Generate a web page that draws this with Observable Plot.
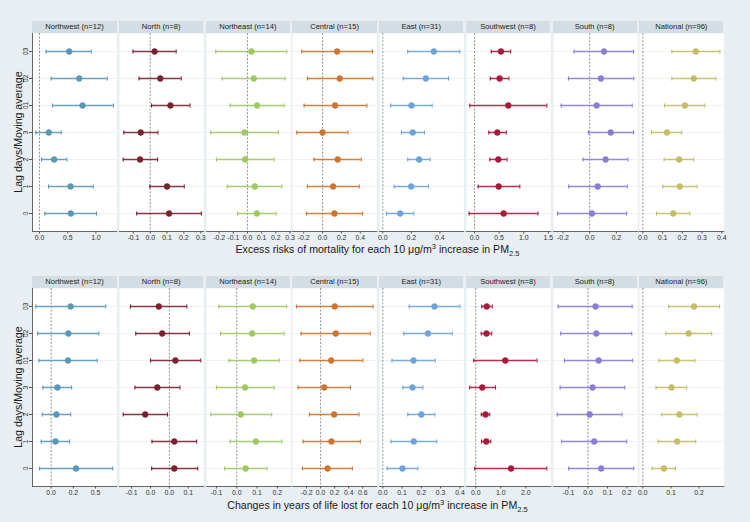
<!DOCTYPE html>
<html>
<head>
<meta charset="utf-8">
<script src="https://cdn.jsdelivr.net/npm/d3@7"></script>
<script src="https://cdn.jsdelivr.net/npm/@observablehq/plot@0.6"></script>
<style>
  body { margin: 0; background: #e8eef1; }
  #root { position: relative; width: 750px; height: 522px; background: #e8eef1; overflow: hidden;
          font-family: "Liberation Sans", Arial, sans-serif; color: #1a1a1a; }
  .strip { position: absolute; height: 12px; background: #d5dde4; font-size: 7.6px; color: #222;
           text-align: center; line-height: 12.5px; white-space: nowrap; }
  .panel { position: absolute; }
  .xtitle { position: absolute; left: 32px; width: 691px; text-align: center; font-size: 10.6px;
            line-height: 13px; white-space: nowrap; }
  .xtitle sup, .xtitle sub { font-size: 7.5px; line-height: 0; position: relative; vertical-align: baseline; }
  .xtitle sup { top: -4px; }
  .xtitle sub { top: 3px; }
  .ytitle { position: absolute; width: 200px; text-align: center; font-size: 10.6px; line-height: 12px;
            transform: rotate(-90deg); white-space: nowrap; }
</style>
</head>
<body>
<div id="root"></div>
<script>
// ---------- data ----------
const regions = ["Northwest (n=12)", "North (n=8)", "Northeast (n=14)", "Central (n=15)",
                 "East (n=31)", "Southwest (n=8)", "South (n=8)", "National (n=96)"];
const colors = ["#5b98b8", "#7a2131", "#9fc763", "#cc7430", "#6fa3d8", "#a8193a", "#8c7dd2", "#c4bd66"];
// lag order of the values below
const lags = ["0", "1", "2", "3", "01", "02", "03"];
// display order, top to bottom
const lagsTopDown = ["03", "02", "01", "3", "2", "1", "0"];

// Excess risks of mortality (top row): estimate, lower, upper per region (in lag order)
const mortEst = [
  [0.556, 0.55, 0.26, 0.166, 0.763, 0.704, 0.527],
  [0.112, 0.10, -0.06, -0.056, 0.12, 0.06, 0.026],
  [0.066, 0.052, -0.016, -0.021, 0.068, 0.045, 0.028],
  [0.126, 0.112, 0.161, 0.0, 0.133, 0.182, 0.154],
  [0.122, 0.199, 0.255, 0.21, 0.201, 0.302, 0.358],
  [0.592, 0.49, 0.483, 0.463, 0.687, 0.51, 0.537],
  [0.017, 0.06, 0.119, 0.157, 0.052, 0.084, 0.107],
  [0.154, 0.187, 0.184, 0.122, 0.213, 0.258, 0.268]
];
const mortLo = [
  [0.095, 0.16, 0.036, -0.065, 0.23, 0.207, 0.118],
  [-0.08, -0.002, -0.16, -0.156, 0.008, -0.066, -0.102],
  [-0.07, -0.142, -0.219, -0.259, -0.123, -0.179, -0.224],
  [-0.172, -0.161, -0.091, -0.274, -0.196, -0.161, -0.221],
  [0.026, 0.08, 0.175, 0.131, 0.056, 0.143, 0.175],
  [-0.109, 0.075, 0.31, 0.29, -0.095, 0.32, 0.34],
  [-0.241, -0.157, -0.05, -0.01, -0.214, -0.159, -0.117],
  [0.069, 0.101, 0.108, 0.044, 0.11, 0.147, 0.147]
];
const mortHi = [
  [1.01, 0.953, 0.485, 0.385, 1.31, 1.20, 0.917],
  [0.304, 0.202, 0.044, 0.046, 0.236, 0.184, 0.154],
  [0.203, 0.243, 0.189, 0.219, 0.259, 0.266, 0.278],
  [0.425, 0.389, 0.41, 0.27, 0.47, 0.533, 0.53],
  [0.218, 0.32, 0.332, 0.292, 0.346, 0.461, 0.54],
  [1.29, 0.92, 0.66, 0.646, 1.47, 0.70, 0.735],
  [0.276, 0.281, 0.286, 0.328, 0.318, 0.33, 0.328],
  [0.238, 0.275, 0.258, 0.197, 0.314, 0.37, 0.39]
];

// Changes in years of life lost (bottom row)
const yllEst = [
  [0.28, 0.049, 0.06, 0.071, 0.19, 0.194, 0.22],
  [0.013, 0.013, -0.064, -0.032, 0.016, -0.019, -0.028],
  [0.044, 0.094, 0.02, 0.041, 0.085, 0.076, 0.079],
  [0.099, 0.155, 0.193, 0.052, 0.151, 0.216, 0.202],
  [0.102, 0.161, 0.2, 0.154, 0.159, 0.234, 0.268],
  [1.41, 0.42, 0.39, 0.26, 1.18, 0.43, 0.44],
  [0.068, 0.032, 0.009, 0.024, 0.055, 0.043, 0.039],
  [0.075, 0.122, 0.13, 0.102, 0.121, 0.163, 0.182]
];
const yllLo = [
  [-0.13, -0.112, -0.1, -0.093, -0.138, -0.153, -0.172],
  [-0.047, -0.046, -0.122, -0.091, -0.05, -0.089, -0.103],
  [-0.06, -0.033, -0.128, -0.1, -0.038, -0.08, -0.089],
  [-0.259, -0.249, -0.16, -0.32, -0.296, -0.278, -0.344],
  [0.023, 0.043, 0.13, 0.104, 0.048, 0.109, 0.137],
  [-0.04, 0.23, 0.22, -0.24, -0.08, 0.22, 0.24],
  [-0.099, -0.135, -0.158, -0.143, -0.121, -0.14, -0.153],
  [0.033, 0.054, 0.067, 0.047, 0.057, 0.082, 0.092]
];
const yllHi = [
  [0.694, 0.209, 0.22, 0.231, 0.519, 0.537, 0.616],
  [0.075, 0.072, -0.005, 0.028, 0.083, 0.053, 0.046],
  [0.149, 0.222, 0.172, 0.184, 0.209, 0.233, 0.246],
  [0.452, 0.565, 0.546, 0.424, 0.602, 0.706, 0.748],
  [0.182, 0.28, 0.27, 0.208, 0.272, 0.36, 0.4],
  [2.84, 0.6, 0.56, 0.79, 2.45, 0.64, 0.66],
  [0.235, 0.199, 0.175, 0.189, 0.23, 0.225, 0.227],
  [0.116, 0.188, 0.193, 0.156, 0.185, 0.245, 0.273]
];

// x-axis extents, tick values and tick labels per panel
const mortDomain = [[-0.124, 1.37], [-0.182, 0.318], [-0.289, 0.306], [-0.319, 0.575],
                    [-0.023, 0.568], [-0.163, 1.55], [-0.271, 0.36], [-0.017, 0.41]];
const yllDomain  = [[-0.21, 0.74], [-0.132, 0.091], [-0.149, 0.266], [-0.4, 0.8],
                    [-0.017, 0.42], [-0.37, 3.0], [-0.177, 0.256], [-0.012, 0.288]];
const mortTicks = [[0, 0.5, 1], [-0.1, 0, 0.1, 0.2, 0.3], [-0.2, -0.1, 0, 0.1, 0.2, 0.3], [-0.2, 0, 0.2, 0.4],
                   [0, 0.2, 0.4], [0, 0.5, 1, 1.5], [-0.2, 0, 0.2], [0, 0.1, 0.2, 0.3, 0.4]];
const mortTickLabels = [["0.0", "0.5", "1.0"], ["-0.1", "0.0", "0.1", "0.2", "0.3"],
                        ["-0.2", "-0.1", "0.0", "0.1", "0.2", "0.3"], ["-0.2", "0.0", "0.2", "0.4"],
                        ["0.0", "0.2", "0.4"], ["0.0", "0.5", "1.0", "1.5"], ["-0.2", "0.0", "0.2"],
                        ["0.0", "0.1", "0.2", "0.3", "0.4"]];
const yllTicks = [[0, 0.25, 0.5], [-0.1, -0.05, 0, 0.05], [-0.1, 0, 0.1, 0.2], [-0.2, 0, 0.2, 0.4, 0.6],
                  [0, 0.1, 0.2, 0.3, 0.4], [0, 1, 2], [-0.1, 0, 0.1, 0.2], [0, 0.1, 0.2]];
const yllTickLabels = [["0.0", "0.2", "0.5"], ["-0.1", "0.0", "0.0", "0.1"], ["-0.1", "0.0", "0.1", "0.2"],
                       ["-0.2", "0.0", "0.2", "0.4", "0.6"], ["0.0", "0.1", "0.2", "0.3", "0.4"],
                       ["0.0", "1.0", "2.0"], ["-0.1", "0.0", "0.1", "0.2"], ["0.0", "0.1", "0.2"]];

const rows = [
  {est: mortEst, lo: mortLo, hi: mortHi, domain: mortDomain, ticks: mortTicks, labels: mortTickLabels,
   title: 'Excess risks of mortality for each 10 μg/m<sup>3</sup> increase in PM<sub>2.5</sub>'},
  {est: yllEst, lo: yllLo, hi: yllHi, domain: yllDomain, ticks: yllTicks, labels: yllTickLabels,
   title: 'Changes in years of life lost for each 10 μg/m<sup>3</sup> increase in PM<sub>2.5</sub>'}
];

// vertical-bar symbol used for the error-bar caps
const capSymbol = {
  draw(context, size) {
    const r = Math.sqrt(size / Math.PI);
    context.moveTo(0, -r);
    context.lineTo(0, r);
  }
};

// ---------- layout ----------
const root = document.getElementById("root");
const left0 = 32.3, stepX = 86.7, panelW = 84.3, plotH = 198;
const plotTops = [33, 288];
const titleTops = [243, 499];

rows.forEach((row, r) => {
  const top = plotTops[r];
  regions.forEach((name, i) => {
    const left = left0 + i * stepX;
    const strip = document.createElement("div");
    strip.className = "strip";
    strip.style.left = left + "px";
    strip.style.width = panelW + "px";
    strip.style.top = (top - 12.5) + "px";
    strip.textContent = name;
    root.appendChild(strip);

    const data = lags.map((lag, k) => ({lag, est: row.est[i][k], lo: row.lo[i][k], hi: row.hi[i][k]}));
    const ticks = row.ticks[i], labels = row.labels[i];
    const fmt = v => labels[ticks.indexOf(v)];
    const color = colors[i];
    const chart = Plot.plot({
      width: panelW, height: plotH + 16,
      marginLeft: 0, marginRight: 0, marginTop: 0, marginBottom: 16,
      style: {overflow: "visible", background: "transparent", fontFamily: "'Liberation Sans', Arial, sans-serif",
              fontSize: "6.9px", color: "#333"},
      x: {domain: row.domain[i], axis: null},
      y: {type: "point", domain: lagsTopDown, padding: 0.574, axis: null},
      marks: [
        Plot.frame({fill: "white", stroke: null}),
        Plot.ruleY(lagsTopDown, {stroke: "#edf1f4", strokeWidth: 1}),
        Plot.ruleX([0], {stroke: "#777", strokeDasharray: "2,1.6", strokeWidth: 0.8}),
        Plot.ruleY(data, {y: "lag", x1: "lo", x2: "hi", stroke: color, strokeWidth: 1.5, strokeOpacity: 0.9}),
        Plot.dot(data, {x: "lo", y: "lag", symbol: capSymbol, r: 2.1, stroke: color, strokeWidth: 1.1, fill: "none"}),
        Plot.dot(data, {x: "hi", y: "lag", symbol: capSymbol, r: 2.1, stroke: color, strokeWidth: 1.1, fill: "none"}),
        Plot.dot(data, {x: "est", y: "lag", r: 2.9, fill: color, stroke: color, strokeWidth: 0.6}),
        Plot.axisX({ticks, tickFormat: fmt, tickSize: 2.5, tickPadding: 1.5, label: null, stroke: "#555", fill: "#333"}),
        Plot.frame({anchor: "bottom", stroke: "#555", strokeWidth: 0.9}),
        ...(i === 0 ? [
          Plot.axisY({tickRotate: -90, tickSize: 3, tickPadding: 1.5, label: null, stroke: "#555", fill: "#333"}),
          Plot.frame({anchor: "left", stroke: "#555", strokeWidth: 0.9})
        ] : [])
      ]
    });
    chart.classList.add("panel");
    chart.style.left = left + "px";
    chart.style.top = top + "px";
    chart.style.position = "absolute";
    root.appendChild(chart);
  });

  const xt = document.createElement("div");
  xt.className = "xtitle";
  xt.style.top = titleTops[r] + "px";
  xt.innerHTML = row.title;
  root.appendChild(xt);

  const yt = document.createElement("div");
  yt.className = "ytitle";
  yt.style.left = (17.5 - 100) + "px";
  yt.style.top = (top + plotH / 2 - 6) + "px";
  yt.textContent = "Lag days/Moving average";
  root.appendChild(yt);
});
</script>
</body>
</html>
